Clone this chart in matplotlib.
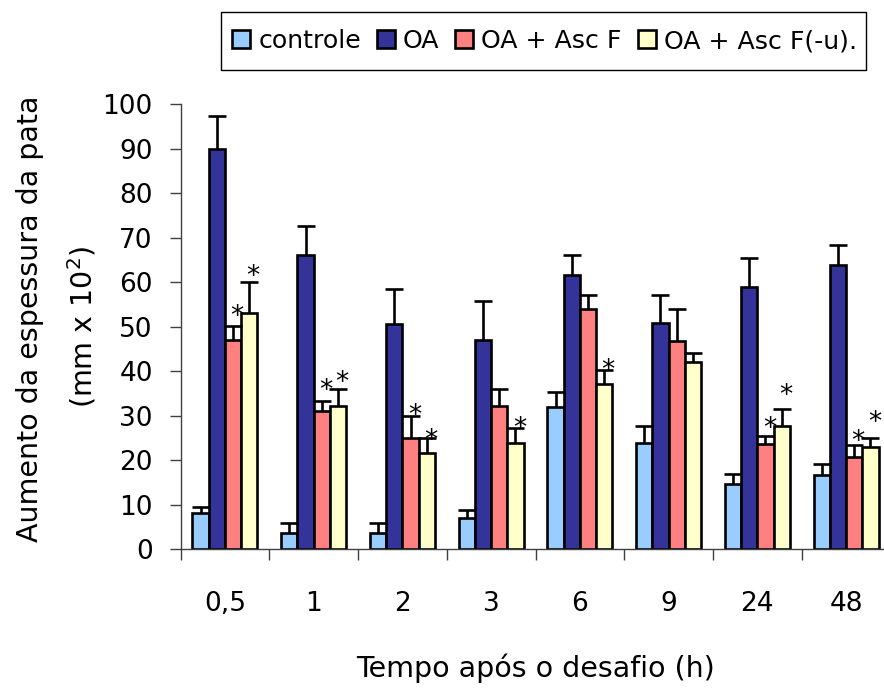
import matplotlib
matplotlib.use("Agg")
import matplotlib.pyplot as plt
from matplotlib.patches import Rectangle
from matplotlib.transforms import offset_copy
import numpy as np

categories = ["0,5", "1", "2", "3", "6", "9", "24", "48"]
series_names = ["controle", "OA", "OA + Asc F", "OA + Asc F(-u)."]
controle = [8.2, 3.7, 3.7, 7.0, 32.0, 23.9, 14.6, 16.8]
oa = [90.0, 66.1, 50.7, 47.0, 61.7, 50.8, 59.0, 63.8]
oa_ascf = [47.0, 31.0, 25.0, 32.1, 53.9, 46.9, 23.7, 20.7]
oa_ascfu = [53.0, 32.1, 21.7, 23.9, 37.2, 42.0, 27.7, 22.9]
err_controle = [1.2, 2.2, 2.2, 1.8, 3.4, 3.9, 2.3, 2.3]
err_oa = [7.3, 6.6, 7.7, 8.8, 4.4, 6.4, 6.5, 4.5]
err_oa_ascf = [3.1, 2.3, 5.0, 3.9, 3.3, 7.1, 1.8, 2.7]
err_oa_ascfu = [7.0, 3.9, 3.3, 3.3, 3.0, 2.2, 3.9, 2.1]
# significance marks: (category index, series index, height of the mark centre)
asterisks = [(0, 2, 53.6), (0, 3, 62.7), (1, 2, 36.9), (1, 3, 38.7),
             (2, 2, 31.4), (2, 3, 25.8), (3, 3, 28.4), (4, 3, 41.6),
             (6, 2, 28.4), (6, 3, 35.9), (7, 2, 25.6), (7, 3, 29.9)]
yticks = [0, 10, 20, 30, 40, 50, 60, 70, 80, 90, 100]

colors = ["#99CCFF", "#333399", "#FF8080", "#FFFFCC"]
values = [controle, oa, oa_ascf, oa_ascfu]
errors = [err_controle, err_oa, err_oa_ascf, err_oa_ascfu]

plt.rcParams['font.family'] = ['DejaVu Sans']
W, H = 884, 689
fig = plt.figure(figsize=(W / 100, H / 100), dpi=100)
ax = fig.add_axes([180.6 / W, 1 - 549.3 / H, (890.4 - 180.6) / W, (549.3 - 104.3) / H])

n = len(categories)
w = 0.183
lw = 1.9
centers = np.arange(n) + 0.5
for k in range(4):
    xs = centers + (k - 1.5) * w
    ax.bar(xs, values[k], width=w, color=colors[k], edgecolor="black",
           linewidth=lw, label=series_names[k], zorder=2)
    tops = np.array(values[k]) + np.array(errors[k])
    ax.vlines(xs, values[k], tops, color="black", linewidth=lw, zorder=3)
    ax.plot(xs, tops, linestyle="none", marker="_", markersize=13.5,
            markeredgewidth=lw, color="black", zorder=3)

ast_fs = 19
ast_trans = offset_copy(ax.transData, fig=fig, x=0, y=-0.59 * ast_fs, units="points")
for ci, si, yc in asterisks:
    x = centers[ci] + (si - 1.5) * w + 0.045
    ax.text(x, yc + 0.5, "*", ha="center", va="baseline", fontsize=ast_fs, color="black",
            zorder=4, transform=ast_trans)

ax.set_xlim(0, n)
ax.set_ylim(0, 100)
ax.set_yticks(yticks)
ax.set_yticklabels([str(t) for t in yticks])
ax.set_xticks(np.arange(0, n + 1))
ax.set_xticklabels([])
ax.set_xticks(centers, minor=True)
ax.set_xticklabels(categories, minor=True)
ax.tick_params(axis="x", which="major", length=8, width=1, color="#404040", direction="out")
ax.tick_params(axis="x", which="minor", length=0, pad=30, labelsize=19)
ax.tick_params(axis="y", length=8, width=1, color="#404040", direction="out", pad=12, labelsize=19)
for s in ["top", "right"]:
    ax.spines[s].set_visible(False)
for s in ["left", "bottom"]:
    ax.spines[s].set_color("#404040")
    ax.spines[s].set_linewidth(1)

fig.text(30 / W, 1 - 319 / H, "Aumento da espessura da pata", rotation=90,
         ha="center", va="center", fontsize=20.5)
fig.text(82 / W, 1 - 327 / H, "(mm x 10$^2$)", rotation=90,
         ha="center", va="center", fontsize=20.5)
fig.text(535 / W, 1 - 668 / H, "Tempo após o desafio (h)", ha="center", va="center", fontsize=20.5)

# legend box
fig.patches.append(Rectangle((221 / W, 1 - 70 / H), (866 - 221) / W, 58 / H,
                             transform=fig.transFigure, facecolor="white",
                             edgecolor="black", linewidth=1, zorder=5))
handles, labels = ax.get_legend_handles_labels()
leg = fig.legend(handles, labels, loc="center left", bbox_to_anchor=(232 / W, 1 - 41 / H),
                 ncol=4, fontsize=18.2, frameon=False,
                 handlelength=0.72, handleheight=0.72, handletextpad=0.32, columnspacing=0.62,
                 borderpad=0, borderaxespad=0)
leg.set_zorder(6)

fig.savefig("out.png", dpi=100)
